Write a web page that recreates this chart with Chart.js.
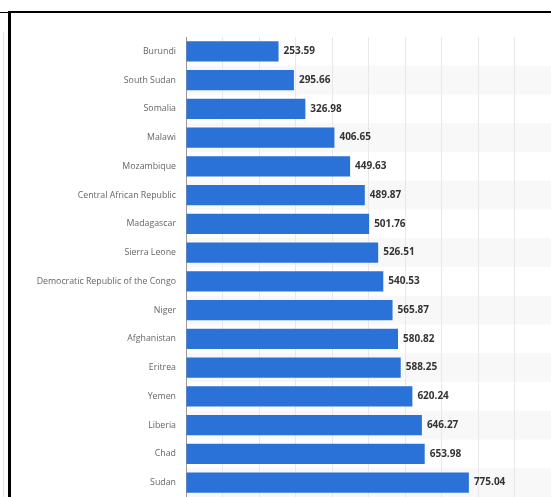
<!DOCTYPE html>
<html>
<head>
<meta charset="utf-8">
<script src="https://cdn.jsdelivr.net/npm/chart.js@4/dist/chart.umd.min.js"></script>
<style>
  html, body { margin: 0; padding: 0; background: #fff; }
  #wrap { position: absolute; left: 0; top: 0; width: 551px; height: 497px; }
  .frame { position: absolute; background: #000; }
</style>
</head>
<body>
<div id="wrap"><canvas id="gdpChart"></canvas></div>
<div class="frame" style="left:8px; top:11px; width:543px; height:2px;"></div>
<div class="frame" style="left:0; top:12px; width:9px; height:1px;"></div>
<div class="frame" style="left:8px; top:11px; width:3px; height:486px;"></div>
<div style="position:absolute; left:3px; top:32px; width:1px; height:465px; background:#e4e4e4;"></div>
<script>
// values
const countries = ["Burundi", "South Sudan", "Somalia", "Malawi", "Mozambique",
  "Central African Republic", "Madagascar", "Sierra Leone",
  "Democratic Republic of the Congo", "Niger", "Afghanistan", "Eritrea",
  "Yemen", "Liberia", "Chad", "Sudan"];
const gdpPerCapita = [253.59, 295.66, 326.98, 406.65, 449.63, 489.87, 501.76, 526.51,
  540.53, 565.87, 580.82, 588.25, 620.24, 646.27, 653.98, 775.04];
const xTicks = [0, 100, 200, 300, 400, 500, 600, 700, 800, 900, 1000];

// light shading on every other row
const rowBands = {
  id: 'rowBands',
  beforeDraw(chart) {
    const {ctx, chartArea, scales: {y}} = chart;
    const step = y.getPixelForValue(1) - y.getPixelForValue(0);
    ctx.save();
    ctx.fillStyle = '#f8f8f8';
    countries.forEach((c, i) => {
      if (i % 2 === 1) {
        const mid = y.getPixelForValue(i);
        ctx.fillRect(chartArea.left, mid - step / 2, chartArea.right - chartArea.left, step);
      }
    });
    ctx.restore();
  }
};

// value labels next to each bar
const barValues = {
  id: 'barValues',
  afterDatasetsDraw(chart) {
    const {ctx} = chart;
    const meta = chart.getDatasetMeta(0);
    ctx.save();
    ctx.font = 'bold 10px "Open Sans"';
    ctx.fillStyle = '#333';
    ctx.textBaseline = 'middle';
    meta.data.forEach((bar, i) => {
      ctx.fillText(gdpPerCapita[i].toFixed(2), bar.x + 5, bar.y);
    });
    ctx.restore();
  }
};

const canvas = document.getElementById('gdpChart');

const gdpChart = new Chart(canvas, {
  type: 'bar',
  data: {
    labels: countries,
    datasets: [{
      data: gdpPerCapita,
      backgroundColor: '#2a71d8',
      barPercentage: 0.7,
      categoryPercentage: 1.0
    }]
  },
  options: {
    indexAxis: 'y',
    responsive: true,
    maintainAspectRatio: false,
    animation: false,
    layout: { padding: { top: 37, left: 0, right: 0, bottom: 0 } },
    plugins: {
      legend: { display: false },
      tooltip: { enabled: false }
    },
    scales: {
      x: {
        min: 0,
        max: 1000,
        afterBuildTicks: (axis) => { axis.ticks = xTicks.map(v => ({value: v})); },
        afterFit: (axis) => { axis.height = 0; },
        ticks: { display: false },
        grid: { color: '#e8e8e8', drawTicks: false },
        border: { display: false }
      },
      y: {
        afterFit: (axis) => {
          axis.width = 186;
          axis.paddingTop = 0;
          axis.paddingBottom = 0;
        },
        ticks: {
          color: '#666',
          font: { family: '"Open Sans"', size: 8.8 },
          padding: 10,
          autoSkip: false
        },
        grid: { color: 'transparent', drawTicks: false, drawOnChartArea: false },
        border: { display: true, color: '#999', width: 1 }
      }
    }
  },
  plugins: [rowBands, barValues]
});
</script>
</body>
</html>
